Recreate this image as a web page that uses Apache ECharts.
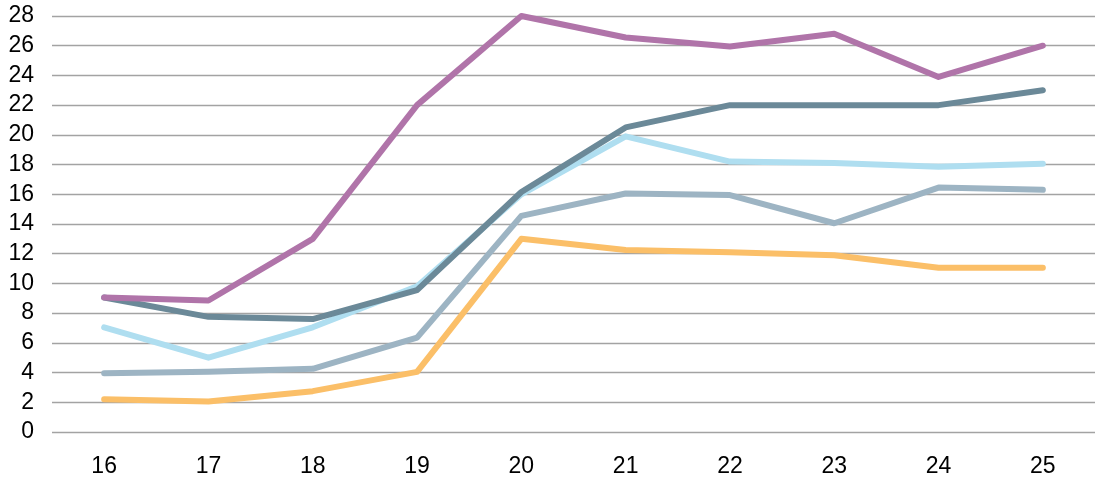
<!DOCTYPE html>
<html>
<head>
<meta charset="utf-8">
<script src="https://cdn.jsdelivr.net/npm/echarts@6/dist/echarts.min.js"></script>
<style>
  html, body { margin: 0; padding: 0; background: #fff; }
  #chart { width: 1095px; height: 479px; }
</style>
</head>
<body>
<div id="chart"></div>
<script>
// values
var categories = ['16', '17', '18', '19', '20', '21', '22', '23', '24', '25'];
var orangeVals = [2.2, 2.05, 2.75, 4.05, 13.0, 12.25, 12.1, 11.9, 11.05, 11.05];
var grayVals   = [3.95, 4.05, 4.25, 6.35, 14.55, 16.05, 15.95, 14.05, 16.45, 16.3];
var lightVals  = [7.05, 5.0, 7.05, 9.8, 16.0, 19.9, 18.2, 18.1, 17.85, 18.05];
var slateVals  = [9.05, 7.75, 7.6, 9.55, 16.15, 20.5, 22.0, 22.0, 22.0, 23.0];
var purpleVals = [9.05, 8.85, 13.0, 22.0, 28.0, 26.55, 25.95, 26.8, 23.9, 26.0];

var LineChart = {
    lineSeries: function (data, color) {
        return {
            type: 'line',
            data: data,
            symbol: 'none',
            lineStyle: { color: color, width: 6, cap: 'round', join: 'round' },
            itemStyle: { color: color }
        };
    },

    show: function () {
        var myChart = echarts.init(document.getElementById('chart'), null, { renderer: 'canvas' });
        var option = {
            animation: false,
            backgroundColor: '#ffffff',
            grid: { left: 52, top: 16, width: 1053, height: 416 },
            xAxis: {
                type: 'category',
                data: categories,
                boundaryGap: true,
                axisLine: { show: false },
                axisTick: { show: false },
                axisLabel: {
                    color: '#000',
                    fontFamily: 'Liberation Sans',
                    fontSize: 23,
                    margin: 23
                }
            },
            yAxis: {
                type: 'value',
                min: 0,
                max: 28,
                interval: 2,
                axisLine: { show: false },
                axisTick: { show: false },
                axisLabel: {
                    color: '#000',
                    fontFamily: 'Liberation Sans',
                    fontSize: 23,
                    margin: 18
                },
                splitLine: { lineStyle: { color: '#a3a3a3', width: 1.3 } }
            },
            series: [
                LineChart.lineSeries(orangeVals, '#fbbf68'),
                LineChart.lineSeries(grayVals, '#9db4c3'),
                LineChart.lineSeries(lightVals, '#afdef0'),
                LineChart.lineSeries(slateVals, '#6b8998'),
                LineChart.lineSeries(purpleVals, '#b074a9')
            ]
        };
        myChart.setOption(option);
    }
};

LineChart.show();
</script>
</body>
</html>
